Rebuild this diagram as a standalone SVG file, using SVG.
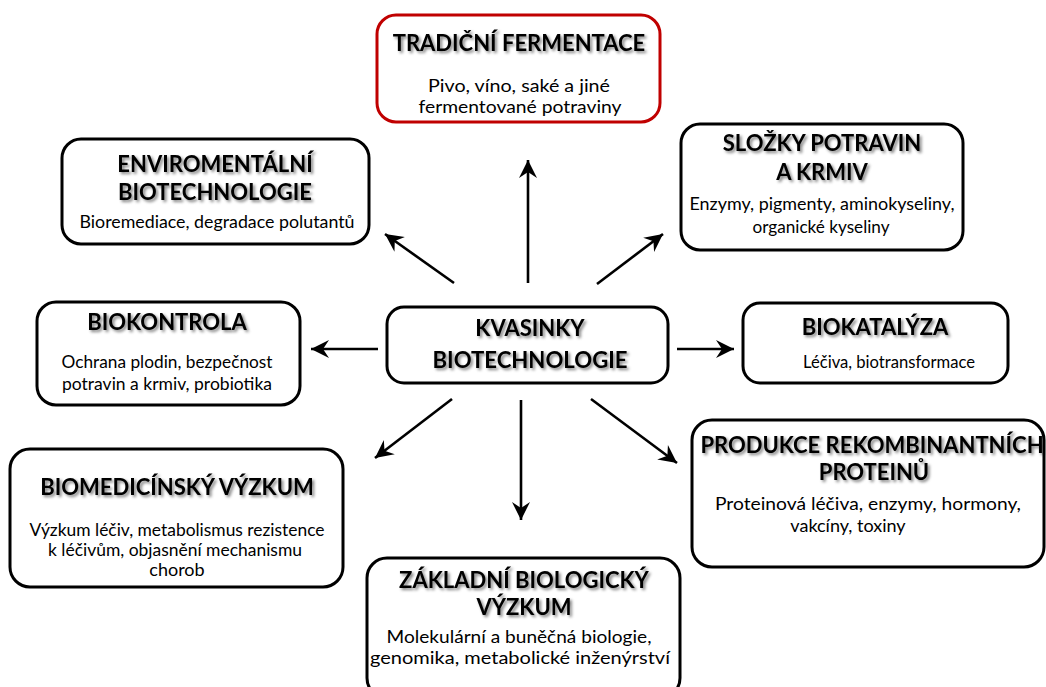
<svg xmlns="http://www.w3.org/2000/svg" width="1046" height="687" viewBox="0 0 1046 687">
  <defs>
    <filter id="tshadow" x="-10%" y="-40%" width="120%" height="180%">
      <feGaussianBlur in="SourceAlpha" stdDeviation="1.8" result="b"/>
      <feOffset in="b" dx="2" dy="2" result="o"/>
      <feFlood flood-color="#000" flood-opacity="0.5"/>
      <feComposite in2="o" operator="in" result="s"/>
      <feMerge><feMergeNode in="s"/><feMergeNode in="SourceGraphic"/></feMerge>
    </filter>
    <marker id="head" viewBox="-19 -10 21 20" markerWidth="21" markerHeight="20" refX="0" refY="0" orient="auto" markerUnits="userSpaceOnUse">
      <path d="M0,0 L-18,-9 L-12,0 L-18,9 Z" fill="#000"/>
    </marker>
  </defs>
  <style>
    .box { fill: #fff; stroke: #000; stroke-width: 3; }
    .red { stroke: #c00000; }
    .title { font-family: Lato, "Open Sans", sans-serif; font-weight: bold; font-size: 22px; fill: #000; text-anchor: middle; filter: url(#tshadow); }
    .body { font-family: Lato, "Open Sans", sans-serif; font-size: 18px; fill: #000; text-anchor: middle; }
    .arrow { stroke: #000; stroke-width: 2.6; fill: none; marker-end: url(#head); }
  </style>
  <rect width="1046" height="687" fill="#fff"/>

  <g id="connectors">
    <line class="arrow" x1="528" y1="283" x2="528" y2="160"/>
    <line class="arrow" x1="597" y1="284" x2="663" y2="234"/>
    <line class="arrow" x1="454" y1="283" x2="385" y2="234"/>
    <line class="arrow" x1="378" y1="349" x2="311" y2="349"/>
    <line class="arrow" x1="677" y1="349" x2="734" y2="349"/>
    <line class="arrow" x1="452" y1="399" x2="375" y2="458"/>
    <line class="arrow" x1="591" y1="399" x2="677" y2="463"/>
    <line class="arrow" x1="521" y1="400" x2="521" y2="520"/>
  </g>

  <g id="tradicni-fermentace">
    <rect class="box red" x="377" y="15" width="283" height="107" rx="19"/>
    <text class="title" x="519" y="51">TRADIČNÍ FERMENTACE</text>
    <text class="body" x="519" y="92" textLength="182" lengthAdjust="spacingAndGlyphs">Pivo, víno, saké a jiné</text>
    <text class="body" x="520" y="113" textLength="203" lengthAdjust="spacingAndGlyphs">fermentované potraviny</text>
  </g>

  <g id="enviromentalni-biotechnologie">
    <rect class="box" x="62" y="139" width="307" height="105" rx="19"/>
    <text class="title" x="215" y="172">ENVIROMENTÁLNÍ</text>
    <text class="title" x="215" y="200">BIOTECHNOLOGIE</text>
    <text class="body" x="217" y="228" textLength="275" lengthAdjust="spacingAndGlyphs">Bioremediace, degradace polutantů</text>
  </g>

  <g id="slozky-potravin">
    <rect class="box" x="681" y="124" width="282" height="126" rx="19"/>
    <text class="title" x="822" y="151">SLOŽKY POTRAVIN</text>
    <text class="title" x="822" y="180">A KRMIV</text>
    <text class="body" x="822" y="210" textLength="265" lengthAdjust="spacingAndGlyphs">Enzymy, pigmenty, aminokyseliny,</text>
    <text class="body" x="821" y="233" textLength="137" lengthAdjust="spacingAndGlyphs">organické kyseliny</text>
  </g>

  <g id="biokontrola">
    <rect class="box" x="37" y="302" width="263" height="103" rx="19"/>
    <text class="title" x="167" y="330">BIOKONTROLA</text>
    <text class="body" x="167" y="368" textLength="211" lengthAdjust="spacingAndGlyphs">Ochrana plodin,  bezpečnost</text>
    <text class="body" x="167" y="390" textLength="210" lengthAdjust="spacingAndGlyphs">potravin a krmiv, probiotika</text>
  </g>

  <g id="kvasinky-biotechnologie">
    <rect class="box" x="387" y="307" width="281" height="76" rx="17"/>
    <text class="title" x="530" y="336">KVASINKY</text>
    <text class="title" x="530" y="368" textLength="195" lengthAdjust="spacingAndGlyphs">BIOTECHNOLOGIE</text>
  </g>

  <g id="biokatalyza">
    <rect class="box" x="743" y="303" width="265" height="80" rx="17"/>
    <text class="title" x="875" y="335">BIOKATALÝZA</text>
    <text class="body" x="889" y="368" textLength="172" lengthAdjust="spacingAndGlyphs">Léčiva, biotransformace</text>
  </g>

  <g id="biomedicinsky-vyzkum">
    <rect class="box" x="10" y="449" width="333" height="138" rx="20"/>
    <text class="title" x="177" y="495">BIOMEDICÍNSKÝ VÝZKUM</text>
    <text class="body" x="177" y="536" textLength="295" lengthAdjust="spacingAndGlyphs">Výzkum léčiv, metabolismus rezistence</text>
    <text class="body" x="175" y="556" textLength="254" lengthAdjust="spacingAndGlyphs">k léčivům, objasnění mechanismu</text>
    <text class="body" x="177" y="576">chorob</text>
  </g>

  <g id="produkce-rekombinantnich-proteinu">
    <rect class="box" x="692" y="420" width="352" height="147" rx="20"/>
    <text class="title" x="872" y="453">PRODUKCE REKOMBINANTNÍCH</text>
    <text class="title" x="874" y="480">PROTEINŮ</text>
    <text class="body" x="868" y="510" textLength="306" lengthAdjust="spacingAndGlyphs">Proteinová léčiva, enzymy, hormony,</text>
    <text class="body" x="848" y="532">vakcíny, toxiny</text>
  </g>

  <g id="zakladni-biologicky-vyzkum">
    <rect class="box" x="367" y="558" width="313" height="140" rx="20"/>
    <text class="title" x="524" y="588">ZÁKLADNÍ BIOLOGICKÝ</text>
    <text class="title" x="524" y="615">VÝZKUM</text>
    <text class="body" x="519" y="643" textLength="265" lengthAdjust="spacingAndGlyphs">Molekulární a buněčná biologie,</text>
    <text class="body" x="520" y="664" textLength="300" lengthAdjust="spacingAndGlyphs">genomika,  metabolické inženýrství</text>
  </g>
</svg>
